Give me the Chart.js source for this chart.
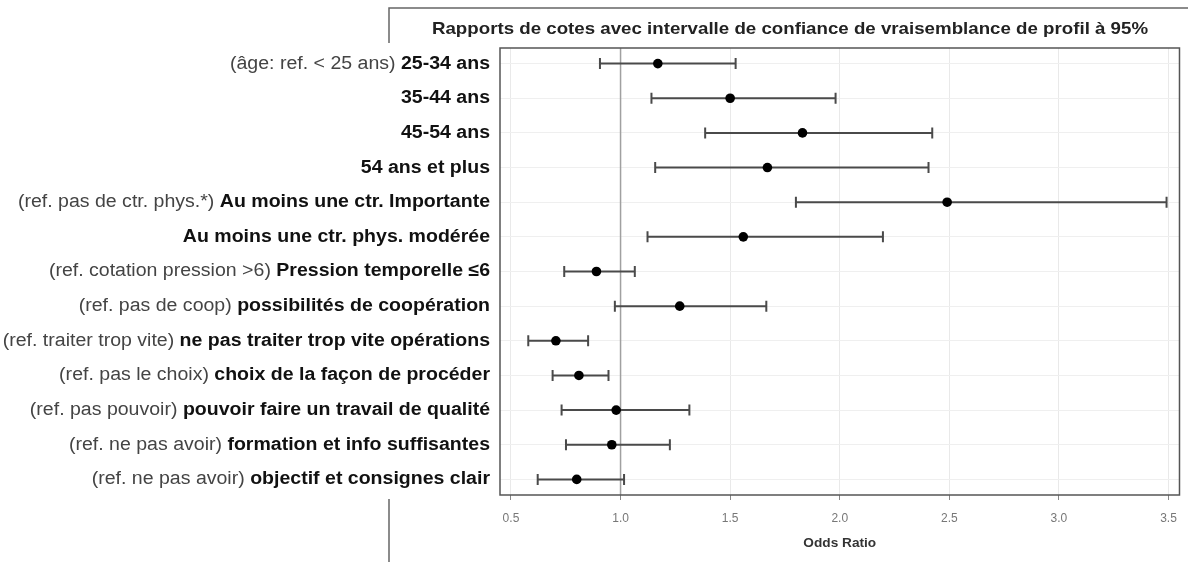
<!DOCTYPE html>
<html><head><meta charset="utf-8">
<script src="https://cdn.jsdelivr.net/npm/chart.js@4"></script>
<style>html,body{margin:0;padding:0;background:#fff}#wrap{width:1188px;height:562px}</style>
</head><body><div id="wrap"><canvas id="c" width="1188" height="562"></canvas></div>
<script>
const refLabels = ["(âge: ref. < 25 ans)", "", "", "", "(ref. pas de ctr. phys.*)", "", "(ref. cotation pression >6)", "(ref. pas de coop)", "(ref. traiter trop vite)", "(ref. pas le choix)", "(ref. pas pouvoir)", "(ref. ne pas avoir)", "(ref. ne pas avoir)"];
const categories = ["25-34 ans","35-44 ans","45-54 ans","54 ans et plus","Au moins une ctr. Importante","Au moins une ctr. phys. modérée","Pression temporelle ≤6","possibilités de coopération","ne pas traiter trop vite opérations","choix de la façon de procéder","pouvoir faire un travail de qualité","formation et info suffisantes","objectif et consignes clair"];
const oddsRatio = [1.17,1.50,1.83,1.67,2.49,1.56,0.89,1.27,0.705,0.81,0.98,0.96,0.80];
const lowerCI = [0.906,1.141,1.386,1.158,1.800,1.123,0.743,0.974,0.579,0.690,0.731,0.751,0.622];
const upperCI = [1.525,1.981,2.422,2.405,3.491,2.197,1.065,1.665,0.852,0.945,1.314,1.225,1.016];
const xTicks = [0.5,1.0,1.5,2.0,2.5,3.0,3.5];
const titleText = "Rapports de cotes avec intervalle de confiance de vraisemblance de profil à 95%";
const xTitle = "Odds Ratio";
const refValue = 1.0;

const FONT = '"Liberation Sans", Arial, sans-serif';

function drawScaled(ctx, text, x, y, sx) {
  ctx.save();
  ctx.translate(x, y);
  ctx.scale(sx, 1);
  ctx.fillText(text, 0, 0);
  ctx.restore();
}

const forestPlugin = {
  id: 'forest',
  beforeDatasetsDraw(chart) {
    const ctx = chart.ctx, xs = chart.scales.x, ys = chart.scales.y, a = chart.chartArea;
    ctx.save();
    const rx = xs.getPixelForValue(refValue);
    ctx.strokeStyle = '#a0a0a0'; ctx.lineWidth = 1.5;
    ctx.beginPath(); ctx.moveTo(rx, a.top); ctx.lineTo(rx, a.bottom); ctx.stroke();
    ctx.strokeStyle = '#4a4a4a'; ctx.lineWidth = 2;
    for (let i = 0; i < categories.length; i++) {
      const y = ys.getPixelForValue(i);
      const x1 = xs.getPixelForValue(lowerCI[i]), x2 = xs.getPixelForValue(upperCI[i]);
      ctx.beginPath();
      ctx.moveTo(x1, y); ctx.lineTo(x2, y);
      ctx.moveTo(x1, y - 5.5); ctx.lineTo(x1, y + 5.5);
      ctx.moveTo(x2, y - 5.5); ctx.lineTo(x2, y + 5.5);
      ctx.stroke();
    }
    ctx.strokeStyle = '#555'; ctx.lineWidth = 1.5;
    ctx.strokeRect(a.left, a.top, a.right - a.left, a.bottom - a.top);
    ctx.restore();
  },
  afterDraw(chart) {
    const ctx = chart.ctx, ys = chart.scales.y, a = chart.chartArea;
    ctx.save();
    ctx.strokeStyle = '#666'; ctx.lineWidth = 1.5;
    ctx.beginPath();
    ctx.moveTo(389, 43); ctx.lineTo(389, 8); ctx.lineTo(1188, 8);
    ctx.moveTo(389, 499); ctx.lineTo(389, 562);
    ctx.stroke();
    ctx.fillStyle = '#222'; ctx.textAlign = 'center'; ctx.textBaseline = 'middle';
    ctx.font = 'bold 17px ' + FONT;
    drawScaled(ctx, titleText, 790, 29, 1.1);
    ctx.font = 'bold 13px ' + FONT; ctx.fillStyle = '#333';
    drawScaled(ctx, xTitle, (a.left + a.right) / 2, 543, 1.05);
    ctx.textAlign = 'right';
    const xr = 490, sx = 1.085;
    for (let i = 0; i < categories.length; i++) {
      const y = ys.getPixelForValue(i);
      ctx.font = 'bold 18px ' + FONT; ctx.fillStyle = '#111';
      drawScaled(ctx, categories[i], xr, y, sx);
      const w = ctx.measureText(categories[i]).width;
      if (refLabels[i]) {
        ctx.font = '18px ' + FONT; ctx.fillStyle = '#444';
        const sp = ctx.measureText(' ').width;
        drawScaled(ctx, refLabels[i], xr - (w + sp) * sx, y, sx);
      }
    }
    ctx.restore();
  }
};

new Chart(document.getElementById('c'), {
  type: 'scatter',
  data: {
    datasets: [{
      data: categories.map((c, i) => ({ x: oddsRatio[i], y: i })),
      pointRadius: 4.8, pointHoverRadius: 4.8,
      backgroundColor: '#000', borderColor: '#000', borderWidth: 0
    }]
  },
  options: {
    responsive: false, animation: false, devicePixelRatio: 1,
    layout: { padding: { left: 0, right: 8, top: 48, bottom: 0 } },
    plugins: { legend: { display: false }, tooltip: { enabled: false }, title: { display: false } },
    scales: {
      x: {
        type: 'linear', min: 0.45, max: 3.55,
        afterBuildTicks: s => { s.ticks = xTicks.map(v => ({ value: v })); },
        afterFit: s => { s.height = 67; },
        ticks: { callback: v => Number(v).toFixed(1), color: '#777', font: { size: 12, family: FONT }, padding: 11, maxRotation: 0, autoSkip: false },
        grid: { color: '#e9e9e9', tickLength: 5, tickColor: '#888', lineWidth: 1 },
        border: { display: false }
      },
      y: {
        type: 'linear', reverse: true, min: -0.45, max: 12.45,
        afterBuildTicks: s => { s.ticks = categories.map((c, i) => ({ value: i })); },
        afterFit: s => { s.width = 500; },
        ticks: { display: false },
        grid: { color: '#efefef', drawTicks: false, lineWidth: 1 },
        border: { display: false }
      }
    }
  },
  plugins: [forestPlugin]
});
</script></body></html>
